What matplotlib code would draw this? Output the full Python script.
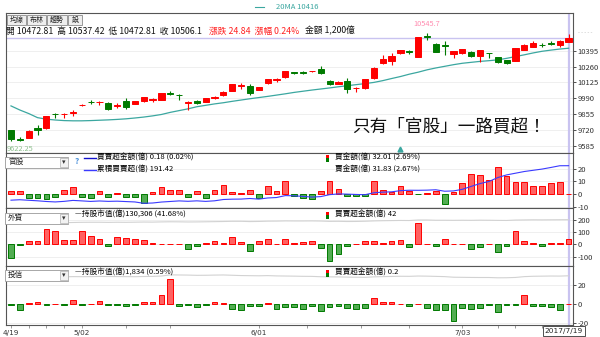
import numpy as np
import matplotlib.pyplot as plt
from matplotlib.patches import Rectangle

plt.rcParams['font.family'] = ['Noto Sans CJK TC', 'DejaVu Sans']
plt.rcParams['axes.unicode_minus'] = False

W, H = 600, 337
RED, GREEN = '#ff0000', '#007a00'
BAR_RED, BAR_GREEN = '#ff6262', '#52ad52'
TEAL = '#3ba7a0'
LAVENDER = '#c9c3f0'

# daily index candles, 2017/4/19 ~ 2017/7/19
opens = [9720, 9645, 9654, 9737, 9734, 9858, 9853, 9866, 9929, 9957,
         9956, 9952, 9925, 9964, 9941, 9964, 9979, 9975, 10034, 10020,
         9948, 9966, 9961, 9996, 10015, 10054, 10095, 10094, 10060, 10117,
         10149, 10168, 10210, 10212, 10220, 10237, 10139, 10111, 10139, 10078,
         10075, 10160, 10288, 10310, 10373, 10395, 10344, 10516, 10452, 10440,
         10367, 10373, 10386, 10350, 10375, 10338, 10316, 10310, 10401, 10429,
         10447, 10460, 10444, 10472.81]
highs = [9722, 9660, 9716, 9762, 9842, 9867, 9867, 9890, 9940, 9972,
         9968, 9958, 9950, 9993, 9968, 10002, 9996, 10035, 10055, 10028,
         9965, 9972, 9993, 10012, 10050, 10110, 10120, 10110, 10086, 10155,
         10162, 10225, 10215, 10225, 10226, 10262, 10145, 10135, 10160, 10085,
         10155, 10253, 10360, 10373, 10404, 10400, 10512, 10545.7, 10460, 10478,
         10396, 10410, 10390, 10404, 10378, 10342, 10320, 10418, 10450, 10475,
         10462, 10475, 10484, 10537.42]
lows = [9628, 9622.25, 9650, 9677, 9730, 9819, 9819, 9839, 9928, 9940,
        9930, 9890, 9905, 9902, 9938, 9960, 9960, 9972, 10015, 9975,
        9890, 9945, 9958, 9980, 10012, 10052, 10070, 10020, 10057, 10114,
        10130, 10165, 10196, 10196, 10214, 10200, 10105, 10108, 10032, 10040,
        10072, 10158, 10285, 10273, 10370, 10370, 10340, 10486, 10380, 10360,
        10330, 10370, 10345, 10301, 10335, 10290, 10283, 10307, 10398, 10425,
        10430, 10440, 10425, 10472.81]
closes = [9640, 9638, 9714, 9720, 9839, 9855, 9857, 9874, 9936, 9954,
          9959, 9896, 9929, 9918, 9964, 9998, 9983, 10032, 10030, 10016,
          9962, 9950, 9990, 10000, 10046, 10108, 10099, 10032, 10083, 10151,
          10153, 10222, 10207, 10209, 10223, 10203, 10111, 10131, 10069, 10081,
          10151, 10250, 10324, 10350, 10401, 10380, 10509, 10512, 10387, 10432,
          10392, 10407, 10350, 10401, 10372, 10296, 10288, 10415, 10444, 10463,
          10444, 10456, 10481.26, 10506.1]
ma20 = [9925, 9890, 9860, 9825, 9812, 9805, 9800, 9798, 9798, 9800,
        9803, 9806, 9810, 9815, 9822, 9830, 9840, 9852, 9870, 9885,
        9900, 9918, 9930, 9942, 9952, 9964, 9975, 9986, 9996, 10006,
        10017, 10028, 10040, 10050, 10060, 10069, 10078, 10088, 10097, 10106,
        10115, 10125, 10140, 10158, 10175, 10195, 10212, 10232, 10248, 10262,
        10276, 10288, 10296, 10304, 10310, 10317, 10330, 10345, 10360, 10376,
        10390, 10400, 10409, 10416]

# 官股 net buy (億) and its running total
gov_net = [2.4, 2.4, -2.9, -2.9, -3.7, -2.4, 3.1, 5.2, -2.6, -2.9,
           2.4, -2.1, 1.0, -2.1, -2.1, -7.3, 1.6, 5.2, 3.1, 3.1,
           -2.1, 2.4, -2.9, 3.1, 7.1, 1.8, 0.5, 3.1, -3.4, 6.3,
           2.4, 10.5, -1.3, -3.1, -3.7, 2.6, 10.5, 4.2, -1.3, -1.8,
           -1.3, 10.5, 3.4, 1.6, 6.6, 2.1, -0.3, 0.8, 2.1, -7.9,
           1.6, 8.7, 16.0, 15.2, 11.3, 21.3, 14.4, 9.2, 9.2, 6.6,
           6.6, 8.7, 9.4, 0.18]
gov_cum = [4.4, 6.8, 3.9, 1.0, -2.7, -5.1, -2.0, 3.2, 0.6, -2.3,
           0.1, -2.0, -1.0, -3.1, -5.2, -12.5, -10.9, -5.7, -2.6, 0.5,
           -1.6, 0.8, -2.1, 1.0, 8.1, 9.9, 10.4, 13.5, 10.1, 16.4,
           18.8, 29.3, 28.0, 24.9, 21.2, 23.8, 34.3, 38.5, 37.2, 35.4,
           34.1, 44.6, 48.0, 49.6, 56.2, 58.3, 58.0, 58.8, 60.9, 53.0,
           54.6, 63.3, 79.3, 94.5, 105.8, 127.1, 141.5, 150.7, 159.9, 166.5,
           173.1, 181.8, 191.2, 191.42]

# 外資 net buy (億) and holding value (億)
foreign_net = [-108, -3, 24, 24, 126, 108, 32, 32, 108, 67,
               46, -11, 59, 54, 46, 38, 13, 5, 5, 5,
               -35, -11, 8, 27, 8, 59, 19, -54, 24, 40,
               2, 40, 11, 21, 27, -27, -133, -77, -16, 1,
               29, 27, 8, 27, 32, -24, 168, 2, -13, 43,
               2, 0, -37, -19, 1, -59, -16, 109, 27, 8,
               -16, 8, 8, 42]
foreign_hold = [124600, 124500, 124800, 124900, 125600, 125700, 125800, 126000, 126300, 126400,
                126400, 126200, 126400, 126300, 126500, 126700, 126600, 126900, 127100, 127000,
                126800, 126900, 127100, 127300, 127500, 127800, 127800, 127400, 127600, 128000,
                128100, 128400, 128300, 128300, 128400, 128200, 127700, 127800, 127500, 127600,
                127900, 128400, 128700, 128900, 129100, 129000, 129800, 129800, 129400, 129400,
                129300, 129400, 129300, 129500, 129400, 129200, 129100, 129700, 129900, 130100,
                130000, 130100, 130200, 130306]

# 投信 net buy (億) and holding value (億)
trust_net = [-1.0, -6.3, 1.8, 2.1, -1.0, 0.3, -1.0, 4.2, -0.3, 0.1,
             3.2, -0.3, -1.0, -2.1, -1.0, 2.8, 2.8, 9.8, 26.3, -2.1,
             -0.7, -3.2, -0.3, 2.8, 1.8, -4.9, -6.3, -2.1, -2.1, 1.8,
             -4.6, -3.2, -3.2, -4.6, -1.8, -7.1, -2.5, -1.8, -3.9, -4.6,
             -4.3, 6.1, 2.5, 2.1, 0.5, -1.8, 0.4, -3.6, -6.4, -6.4,
             -17.9, -3.9, -4.6, -3.6, -1.1, -7.9, -1.1, -1.1, 9.6, -1.4,
             -1.4, -2.5, -5.7, 0.2]
trust_hold = [1812, 1810, 1813, 1815, 1818, 1817, 1816, 1820, 1819, 1820,
              1823, 1822, 1821, 1820, 1819, 1822, 1824, 1830, 1850, 1848,
              1846, 1842, 1843, 1846, 1848, 1843, 1838, 1836, 1834, 1837,
              1832, 1830, 1828, 1825, 1824, 1818, 1816, 1815, 1812, 1810,
              1808, 1816, 1820, 1823, 1826, 1825, 1830, 1828, 1824, 1820,
              1810, 1808, 1806, 1805, 1805, 1800, 1801, 1806, 1820, 1826,
              1828, 1830, 1829, 1834]

date_idx = [0, 8, 28, 51]
date_labels = ['4/19', '5/02', '6/01', '7/03']
minor_idx = [2, 4, 6, 13, 18, 33.5, 39.5, 45, 55, 57, 60]
event_idx = [44]

x = np.arange(len(closes))


def frac(x0, y0, x1, y1):
    return [x0 / W, 1 - y1 / H, (x1 - x0) / W, (y1 - y0) / H]


fig = plt.figure(figsize=(W / 100, H / 100), dpi=100)
ax_k = fig.add_axes(frac(5.5, 13, 573, 153))
ax_g = fig.add_axes(frac(5.5, 153, 573, 208))
ax_f = fig.add_axes(frac(5.5, 208, 573, 266))
ax_t = fig.add_axes(frac(5.5, 266, 573, 325))

tw_g = ax_g.twinx()
tw_f = ax_f.twinx()
tw_t = ax_t.twinx()
for tw, lim in ((tw_g, (-38, 260.3)), (tw_f, (60000, 148000)), (tw_t, (1000, 2000))):
    tw.set_ylim(*lim)
    tw.axis('off')


def style(ax, lo, hi, ticks):
    ax.set_xlim(-0.62, 63.5)
    ax.set_ylim(lo, hi)
    ax.yaxis.tick_right()
    ax.set_yticks(ticks)
    ax.tick_params(axis='y', length=2, width=0.6, pad=1.5, labelsize=5.5,
                   colors='#333333')
    ax.tick_params(axis='x', length=0, labelbottom=False)
    ax.grid(axis='y', color='#ececec', lw=0.6)
    ax.set_axisbelow(True)
    for s in ax.spines.values():
        s.set_color('#555555')
        s.set_linewidth(0.8)


style(ax_k, 9524, 10716, [9585, 9720, 9855, 9990, 10125, 10260, 10395])
style(ax_g, -11, 32.3, [-10, 0, 10, 20])
style(ax_f, -175, 293, [-100, 0, 100, 200])
style(ax_t, -21.8, 40.3, [-20, 0, 20])

# candles
o, h, l, c = (np.array(v, dtype=float) for v in (opens, highs, lows, closes))
col = np.where(c >= o, RED, GREEN)
ax_k.vlines(x, l, h, colors=col, lw=0.8, zorder=3)
ax_k.bar(x, np.abs(c - o), bottom=np.minimum(o, c), width=0.7, color=col,
         edgecolor=col, lw=0.7, zorder=4)
ax_k.plot(x, ma20, color=TEAL, lw=0.9, zorder=2)
ax_k.axhline(closes[-1], color=LAVENDER, lw=1.0, zorder=1)
ax_k.plot(event_idx, [9556] * len(event_idx), marker='^', ms=3.5, color=TEAL,
          ls='none', zorder=5)

ih = int(np.argmax(h))
il = int(np.argmin(l))
ax_k.annotate(f'{h[ih]:g}', (ih, h[ih]), xytext=(0, 3.5), textcoords='offset points',
              ha='center', va='bottom', fontsize=5.3, color='#ff8cb0')
ax_k.annotate(f'{l[il]:g}', (il, l[il]), xytext=(0, -2.5), textcoords='offset points',
              ha='center', va='top', fontsize=5.3, color='#8fc08f')


def flow_bars(ax, vals):
    v = np.array(vals, dtype=float)
    pos = v >= 0
    ax.bar(x, v, width=0.65, color=np.where(pos, BAR_RED, BAR_GREEN),
           edgecolor=np.where(pos, RED, GREEN), lw=0.7, zorder=3)


flow_bars(ax_g, gov_net)
flow_bars(ax_f, foreign_net)
flow_bars(ax_t, trust_net)
tw_g.plot(x, gov_cum, color='#3a3aff', lw=0.8)
tw_f.plot(x, foreign_hold, color='#d2d2d2', lw=0.8)
tw_t.plot(x, trust_hold, color='#d2d2d2', lw=0.8)

for ax in (ax_k, ax_g, ax_f, ax_t):
    ax.axvline(x[-1], color=LAVENDER, lw=1.6, zorder=1)

# date axis
ax_t.set_xticks(date_idx)
ax_t.set_xticklabels(date_labels, family='DejaVu Sans')
ax_t.set_xticks(minor_idx, minor=True)
ax_t.tick_params(axis='x', which='both', length=2.5, width=0.6, color='#888888',
                 labelbottom=True, labelsize=5.2, pad=0.8, labelcolor='#333333')

# overlay in pixel units for the panel furniture
ov = fig.add_axes([0, 0, 1, 1], zorder=10)
ov.set_xlim(0, W)
ov.set_ylim(H, 0)
ov.axis('off')

ov.plot([255, 264], [7, 7], color=TEAL, lw=0.8)
ov.text(276, 7, f'20MA {ma20[-1]}', color=TEAL, fontsize=5.5, va='center')

for name, x0, x1 in (('均線', 7, 26), ('布林', 27, 46), ('趨勢', 47, 67), ('設', 68, 82)):
    ov.add_patch(Rectangle((x0, 15), x1 - x0, 10, fc='#eeeeee', ec='#8a8a8a', lw=0.6))
    ov.text((x0 + x1) / 2, 20, name, fontsize=5, ha='center', va='center', color='#222222')

ov.text(6, 31, f'開 {opens[-1]:.2f}  高 {highs[-1]:.2f}  低 {lows[-1]:.2f}  收 {closes[-1]:g}',
        fontsize=6.3, va='center', color='#111111')
chg = closes[-1] - closes[-2]
ov.text(209, 31, f'漲跌 {chg:.2f}  漲幅 {chg / closes[-2] * 100:.2f}%',
        fontsize=6.3, va='center', color='#ff2020')
ov.text(305, 31, '金額 1,200億', fontsize=6.3, va='center', color='#111111')
ov.text(578, 33, '- - - - -', fontsize=4, va='center', color='#aaaaaa')

ov.text(352, 126, '只有「官股」一路買超！', fontsize=12.7, va='center', color='#111111')


def dropdown(y0, label):
    ov.add_patch(Rectangle((5, y0), 63, 10.5, fc='white', ec='#9a9a9a', lw=0.6))
    ov.add_patch(Rectangle((60, y0 + 0.5), 7.5, 9.5, fc='#f2f2f2', ec='#b0b0b0', lw=0.5))
    ov.text(8, y0 + 5.3, label, fontsize=5.5, va='center', color='#222222')
    ov.text(63.8, y0 + 5.3, '▾', fontsize=5, va='center', ha='center', color='#333333')


def updown_icon(y):
    ov.add_patch(Rectangle((326, y - 3.5), 3, 3.5, fc=RED, ec='none'))
    ov.add_patch(Rectangle((326, y), 3, 3.5, fc=GREEN, ec='none'))


# 官股 header
dropdown(157, '官股')
ov.text(75, 161, '?', fontsize=6, va='center', color='#4a90d9', fontweight='bold')
ov.plot([84, 96], [158, 158], color='#1010cc', lw=1.0)
ov.text(97, 158, f'買賣超金額(億) {gov_net[-1]} (0.02%)', fontsize=5.5, va='center')
ov.plot([84, 96], [170, 170], color='#3a3aff', lw=1.0)
ov.text(97, 170, f'累積買賣超(億) {gov_cum[-1]}', fontsize=5.5, va='center')
updown_icon(158)
ov.text(335, 158, '買金額(億) 32.01 (2.69%)', fontsize=5.5, va='center')
ov.text(335, 170, '賣金額(億) 31.83 (2.67%)', fontsize=5.5, va='center')

# 外資 header
dropdown(213, '外資')
ov.text(75, 215, f'—持股市值(億){foreign_hold[-1]:,} (41.68%)', fontsize=5.5, va='center')
updown_icon(215)
ov.text(335, 215, f'買賣超金額(億) {foreign_net[-1]}', fontsize=5.5, va='center')

# 投信 header
dropdown(270, '投信')
ov.text(75, 273, f'—持股市值(億){trust_hold[-1]:,} (0.59%)', fontsize=5.5, va='center')
updown_icon(273)
ov.text(335, 273, f'買賣超金額(億) {trust_net[-1]}', fontsize=5.5, va='center')

ov.text(564, 331, '2017/7/19', fontsize=5.3, ha='center', va='center', color='#222222',
        family='DejaVu Sans',
        bbox=dict(boxstyle='square,pad=0.25', fc='white', ec='#333333', lw=0.6))

fig.savefig('out.png', dpi=100)
